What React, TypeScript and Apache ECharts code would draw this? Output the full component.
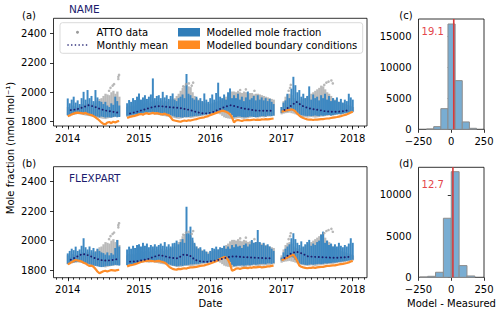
import React, { useEffect, useRef } from "react";
import * as echarts from "echarts";

// ---- time-series data: 10-day slots starting 2014-01-01 (slot i -> 2014 + i/36), null = no data ----
const blueHiA = [
  1958,1925,1950, 1970,1930,1945, 1920,1960,2003, 1950,2015,1960, 1975,1940,2015, 1965,1940,1935, 1920,1935,1910, 1900,1925,1915, 1970,1940,1910,
  null,null,null,
  1925,1947,1935, 1960,1947,1970, 1992,1950,1965, 1980,1955,1970, 1985,2094,1960, 1975,1980,1960, 2003,1965,1980, 1955,1975,1992, 1950,1940,1960,
  1970,1985,1960, 2124,1990,1980, 1960,1950,1970, 1945,1960,1940, 1992,1950,1935, 1960,1985,1950, 1995,2065,1970, 1960,1985,1950, 2000,2026,1960,
  1980,1960,1990, 1950,1970,1940, 1965,2005,1950, 1960,1975,1945, 1980,1950,1965, 1945,1960,1940, 1955,1935,1920,
  null,null,null,
  1900,1930,1945, 1990,1960,2025, 2105,2048,2000, 2015,1970,1990, 1960,1975,2040, 1950,1985,1960, 1970,1945,1980, 1960,1990,1950, 1975,1940,1960,
  1945,1965,1935, 1955,1930,1950, 1940,1990,1965, 1950,
];
const blueLoA = [
  1845,1850,1848, 1855,1852,1858, 1860,1855,1862, 1858,1850,1845, 1840,1838,1835, 1835,1830,1835, 1832,1828,1830, 1830,1828,1832, 1835,1830,1832,
  null,null,null,
  1840,1842,1845, 1848,1850,1852, 1855,1858,1860, 1862,1860,1865, 1865,1862,1866, 1862,1860,1858, 1858,1855,1852, 1850,1845,1840, 1835,1830,1832,
  1830,1828,1832, 1830,1832,1835, 1835,1838,1840, 1840,1842,1845, 1848,1850,1852, 1855,1858,1862, 1865,1870,1872, 1875,1872,1870, 1868,1860,1845,
  1830,1832,1835, 1835,1832,1830, 1830,1832,1835, 1835,1832,1830, 1832,1835,1838, 1838,1835,1840, 1840,1838,1842,
  null,null,null,
  1860,1865,1868, 1870,1875,1878, 1875,1865,1855, 1850,1845,1842, 1840,1838,1840, 1838,1840,1842, 1840,1838,1842, 1840,1842,1845, 1845,1842,1845,
  1848,1850,1852, 1850,1855,1858, 1860,1862,1868, 1870,
];
const orangeA = [
  1838,1842,1850, 1855,1860,1862, 1860,1858,1855, 1860,1852,1848, 1845,1838,1830, 1820,1808,1795, 1785,1782,1795, 1798,1790,1800, 1795,1802,1805,
  null,null,null,
  1825,1830,1835, 1838,1840,1845, 1850,1852,1848, 1855,1858,1852, 1856,1860,1855, 1858,1855,1852, 1850,1855,1848, 1845,1830,1812, 1808,1805,1802,
  1800,1805,1808, 1805,1810,1808, 1812,1815,1818, 1822,1825,1828, 1830,1835,1838, 1845,1850,1855, 1860,1865,1870, 1875,1872,1868, 1860,1850,1830,
  1795,1808,1812, 1808,1805,1810, 1810,1812,1810, 1812,1815,1812, 1814,1812,1816, 1815,1818,1816, 1818,1820,1822,
  null,null,null,
  1868,1872,1875, 1878,1880,1885, 1880,1870,1855, 1842,1832,1825, 1820,1816,1814, 1815,1812,1815, 1814,1816,1818, 1818,1820,1822, 1822,1825,1828,
  1830,1832,1835, 1838,1842,1846, 1850,1856,1862, 1868,
];
const blueHiB = [
  1913,1930,1945, 1935,1959,1930, 1940,1965,2016, 1955,1940,1960, 1935,1950,1925, 1945,1930,1920, 1915,1905,1920, 1900,1915,1905, 1950,2004,1960,
  null,null,null,
  1940,1959,1945, 1965,1950,1970, 1975,1960,1985, 1965,1980,1955, 1970,1960,1975, 1960,1970,1980, 1965,1990,1960, 1975,1960,1982, 1985,2000,1975,
  1990,2010,1985, 2230,2050,2095, 2020,1985,1960, 1945,1955,1930, 1940,1925,1910, 1930,1950,1945, 1959,1940,1955, 1950,1965,1945, 1960,1945,1970,
  1955,1975,1960, 1965,1950,1970, 1980,1960,1975, 2004,1985,1990, 2072,1990,1970, 1985,1965,1975, 1960,1945,1930,
  null,null,null,
  1885,1920,1945, 1960,1975,2016, 2050,2010,1985, 1970,1995,1960, 1975,1990,2005, 1965,1980,1970, 1990,2000,2040, 2061,1985,2000, 1970,1980,1960,
  1975,1960,1985, 1965,1955,1970, 1960,1980,2016, 1985,
];
const blueLoB = [
  1840,1845,1850, 1852,1855,1858, 1860,1855,1850, 1848,1842,1838, 1835,1830,1828, 1825,1822,1820, 1822,1825,1828, 1828,1830,1832, 1835,1832,1830,
  null,null,null,
  1835,1838,1840, 1842,1845,1848, 1850,1852,1855, 1858,1860,1862, 1862,1860,1858, 1860,1858,1855, 1852,1850,1845, 1840,1835,1830, 1828,1825,1828,
  1830,1828,1832, 1832,1835,1838, 1838,1840,1842, 1842,1845,1848, 1848,1850,1852, 1855,1858,1862, 1866,1870,1875, 1880,1882,1878, 1870,1855,1835,
  1825,1828,1830, 1830,1832,1830, 1832,1835,1832, 1835,1838,1836, 1838,1840,1842, 1842,1840,1845, 1845,1842,1848,
  null,null,null,
  1865,1870,1875, 1880,1885,1888, 1885,1870,1855, 1845,1840,1838, 1835,1834,1836, 1838,1836,1838, 1840,1842,1840, 1842,1845,1844, 1846,1848,1850,
  1850,1852,1855, 1856,1858,1860, 1862,1865,1868, 1870,
];
const orangeB = [
  1840,1845,1855, 1862,1868,1865, 1862,1858,1850, 1845,1835,1828, 1830,1822,1808, 1790,1778,1785, 1792,1795,1790, 1795,1800,1798, 1796,1800,1802,
  null,null,null,
  1825,1830,1834, 1836,1840,1845, 1850,1855,1858, 1860,1862,1865, 1862,1860,1858, 1860,1862,1858, 1855,1850,1840, 1825,1815,1808, 1805,1803,1808,
  1806,1810,1812, 1810,1815,1818, 1818,1820,1822, 1825,1828,1830, 1832,1836,1840, 1845,1850,1855, 1860,1868,1875, 1882,1888,1885, 1870,1840,1795,
  1800,1810,1812, 1808,1812,1815, 1815,1812,1818, 1815,1820,1818, 1820,1822,1818, 1820,1822,1825, 1825,1828,1830,
  null,null,null,
  1868,1872,1878, 1885,1892,1898, 1905,1885,1860, 1830,1822,1818, 1815,1812,1815, 1815,1818,1815, 1818,1820,1822, 1822,1825,1828, 1828,1830,1832,
  1832,1835,1838, 1840,1842,1845, 1848,1852,1858, 1862,
];
// ATTO observations (same in both panels)
const grayHi = [
  1900,1890,1910, 1905,1895,1900, 1910,1920,1915, 1915,1925,1910, 1920,1915,1930, 1940,1955,1960, 1975,1990,1985, 1980,2000,2010, 1990,2005,1970,
  null,null,null,
  1900,1910,1905, 1910,1905,1915, 1920,1930,1925, 1930,1940,1925, 1935,1945,1930, 1940,1935,1945, 1930,1940,1935, 1945,1950,1955, 1960,1975,1990,
  2010,2030,2045, 2050,2040,2035, 2000,1975,1960, 1950,1940,1935, 1930,1925,1920, 1920,1925,1930, 1935,1940,1945, 1950,1960,1970, 1980,1995,2005,
  2005,2000,2010, 2000,1995,2005, 2000,1990,1995, 1995,1985,1990, 1990,1985,1980, 1975,1970,1965, 1960,1955,1950,
  null,null,null,
  1900,1940,1970, 1985,1990,1980, 1960,1950,1945, 1940,1950,1955, 1960,1970,1980, 1990,2000,2010, 2020,2030,2045, 2040,2020,2000, 1990,1975,1960,
  1950,1940,1935, 1930,1925,1920, 1915,1910,1905, 1900,
];
const grayLo = [
  1840,1842,1845, 1848,1850,1852, 1850,1848,1845, 1842,1840,1838, 1835,1832,1830, 1828,1825,1822, 1820,1818,1822, 1825,1828,1830, 1832,1835,1835,
  null,null,null,
  1832,1835,1838, 1840,1842,1845, 1848,1850,1852, 1855,1852,1850, 1852,1855,1850, 1848,1845,1842, 1840,1838,1835, 1832,1830,1828, 1825,1822,1820,
  1822,1825,1828, 1830,1828,1825, 1828,1830,1832, 1835,1838,1840, 1842,1845,1848, 1850,1852,1855, 1858,1855,1850, 1840,1830,1825, 1822,1820,1818,
  1820,1822,1825, 1825,1822,1820, 1822,1825,1828, 1830,1832,1830, 1828,1830,1832, 1830,1832,1835, 1835,1838,1840,
  null,null,null,
  1850,1855,1858, 1860,1862,1858, 1855,1850,1845, 1840,1835,1832, 1830,1828,1830, 1832,1830,1828, 1830,1832,1835, 1835,1838,1840, 1842,1840,1842,
  1845,1848,1850, 1850,1852,1855, 1858,1860,1862, 1865,
];
const grayOutliers = [
  [2014.58, 2010], [2014.6, 2030], [2014.63, 2045], [2014.65, 2055], [2014.71, 2090], [2014.71, 2105], [2014.72, 2118],
  [2015.62, 2040], [2015.66, 2055], [2015.7, 2060], [2015.74, 2045], [2015.76, 2065],
  [2016.42, 2015], [2016.5, 2020], [2016.62, 2010],
  [2017.1, 2010], [2017.12, 2030], [2017.13, 2050], [2017.6, 2050], [2017.63, 2065], [2017.66, 2072], [2017.7, 2080], [2017.72, 2060],
];
// monthly means, Jan 2014 .. Dec 2017
const monthlyA = [
  1879, 1884, 1897, 1912, 1902, 1886, 1875, 1868, 1861, null, 1856, 1866,
  1878, 1890, 1902, 1906, 1902, 1897, 1895, 1888, 1880, 1868, 1858, 1856,
  1866, 1884, 1902, 1912, 1902, 1890, 1884, 1876, 1875, 1875, 1875, null,
  1880, 1905, 1935, 1908, 1892, 1884, 1878, 1870, 1868, 1868, 1872, 1880,
];
const monthlyB = [
  1870, 1890, 1910, 1900, 1882, 1868, 1864, 1868, 1875, null, 1857, 1858,
  1866, 1874, 1890, 1902, 1892, 1882, 1880, 1905, 1900, 1868, 1858, 1856,
  1862, 1870, 1882, 1892, 1892, 1888, 1886, 1884, 1882, 1880, 1880, null,
  1882, 1910, 1925, 1912, 1892, 1890, 1888, 1886, 1884, 1884, 1886, 1890,
];
// histograms: bin edges and counts
const histEdgesC = [-188.5, -134, -79.5, -25, 29.5, 84, 138.5, 193];
const histCountsC = [40, 430, 3340, 17040, 7875, 1190, 160];
const histEdgesD = [-240, -180, -120, -60, 0, 60, 120, 180];
const histCountsD = [30, 120, 610, 7170, 12830, 1420, 160];
const meanC = 19.1;
const meanD = 12.7;

const yearTicks = [2014, 2015, 2016, 2017, 2018];
const moleTicks = [1800, 2000, 2200, 2400];
const histXTicks = [-250, 0, 250];
const histYTicksC = [0, 5000, 10000, 15000];
const histYTicksD = [0, 5000, 10000];

const FONT = "DejaVu Sans";
const BLUE = "#3d88c2";
const ORANGE = "#fd8c28";
const GRAY = "#bababa";
const NAVY = "#1c1c6e";
const RED = "#d93a3a";

const slotT = (i: number) => 2014 + i / 36;

function bandData(lo: (number | null)[], hi: (number | null)[]) {
  const out: number[][] = [];
  for (let i = 0; i < hi.length; i++) {
    if (lo[i] != null && hi[i] != null) out.push([slotT(i), lo[i] as number, hi[i] as number]);
  }
  return out;
}
function lineData(v: (number | null)[]) {
  return v.map((y, i) => [slotT(i), y == null ? "-" : y]);
}
function monthData(v: (number | null)[]) {
  return v.map((y, m) => [2014 + (m + 0.5) / 12, y == null ? "-" : y]);
}
function histData(edges: number[], counts: number[]) {
  return counts.map((c, i) => [edges[i], edges[i + 1], c]);
}

const bandRender = (color: string, extra: number) => (params: any, api: any) => {
  const t = api.value(0);
  const lo = api.value(1);
  const hi = api.value(2);
  const a = api.coord([t - 1 / 72, hi]);
  const b = api.coord([t + 1 / 72, lo]);
  return {
    type: "rect",
    shape: { x: a[0], y: a[1], width: b[0] - a[0] + extra, height: Math.max(b[1] - a[1], 0.8) },
    style: { fill: color },
  };
};
const histRender = (params: any, api: any) => {
  const a = api.coord([api.value(0), api.value(2)]);
  const b = api.coord([api.value(1), 0]);
  return {
    type: "rect",
    shape: { x: a[0], y: a[1], width: b[0] - a[0], height: b[1] - a[1] },
    style: { fill: "#79add2", stroke: "#8c8c8c", lineWidth: 1 },
  };
};

const minorMonths: number[] = [];
for (let k = -2; k <= 50; k++) {
  const v = 2014 + k / 12;
  if (v >= 2013.8 && v <= 2018.2) minorMonths.push(v);
}

const labelStyle = { fontFamily: FONT, fontSize: 10, color: "#000" };
const tickLine = { color: "#000", width: 0.8 };

function timeXAxes(gridIndex: number) {
  return [
    {
      type: "value", gridIndex, min: 2013.8, max: 2018.2, position: "bottom",
      axisLine: { show: false }, splitLine: { show: false },
      axisTick: { show: true, customValues: yearTicks, length: 3.5, lineStyle: tickLine },
      axisLabel: { ...labelStyle, margin: 7, customValues: yearTicks, formatter: (v: number) => String(Math.round(v)) },
    },
    {
      type: "value", gridIndex, min: 2013.8, max: 2018.2, position: "bottom",
      axisLine: { show: false }, splitLine: { show: false },
      axisTick: { show: true, customValues: minorMonths, length: 2, lineStyle: tickLine },
      axisLabel: { show: false },
    },
  ];
}
function histXAxis(gridIndex: number) {
  return {
    type: "value", gridIndex, min: -250, max: 250,
    axisLine: { show: false }, splitLine: { show: false },
    axisTick: { show: true, customValues: histXTicks, length: 3.5, lineStyle: tickLine },
    axisLabel: {
      ...labelStyle, margin: 7, customValues: histXTicks,
      formatter: (v: number) => (v < 0 ? "\u2212" + Math.abs(v) : String(v)),
    },
  };
}
function yAxis(gridIndex: number, min: number, max: number, ticks: number[]) {
  return {
    type: "value", gridIndex, min, max,
    axisLine: { show: false }, splitLine: { show: false },
    axisTick: { show: true, customValues: ticks, length: 3.5, lineStyle: tickLine },
    axisLabel: { ...labelStyle, margin: 7, customValues: ticks, formatter: (v: number) => String(v) },
  };
}

function panelSeries(xi: number, yi: number, bHi: any[], bLo: any[], orange: any[], monthly: any[]) {
  return [
    {
      type: "custom", xAxisIndex: xi, yAxisIndex: yi, renderItem: bandRender(GRAY, 0.3),
      data: bandData(grayLo, grayHi), encode: { x: 0, y: [1, 2] }, silent: true,
    },
    {
      type: "scatter", xAxisIndex: xi, yAxisIndex: yi, symbol: "circle", symbolSize: 2.6,
      itemStyle: { color: "#a8a8a8" }, data: grayOutliers, silent: true,
    },
    {
      type: "custom", xAxisIndex: xi, yAxisIndex: yi, renderItem: bandRender(BLUE, 0),
      data: bandData(bLo, bHi), encode: { x: 0, y: [1, 2] }, silent: true,
    },
    {
      type: "line", xAxisIndex: xi, yAxisIndex: yi, data: lineData(orange), showSymbol: false,
      symbol: "none", connectNulls: false, lineStyle: { color: ORANGE, width: 2.2 }, silent: true,
    },
    {
      type: "line", xAxisIndex: xi, yAxisIndex: yi, data: monthData(monthly), showSymbol: false,
      symbol: "none", connectNulls: false,
      lineStyle: { color: NAVY, width: 1.9, type: [0.1, 3.6], cap: "round" }, silent: true,
    },
  ];
}

function histSeries(xi: number, yi: number, edges: number[], counts: number[], mean: number, ymax: number) {
  return [
    {
      type: "custom", xAxisIndex: xi, yAxisIndex: yi, renderItem: histRender,
      data: histData(edges, counts), encode: { x: [0, 1], y: 2 }, silent: true,
    },
    {
      type: "line", xAxisIndex: xi, yAxisIndex: yi, data: [[mean, 0], [mean, ymax]], symbol: "none",
      lineStyle: { color: RED, width: 1.6 }, silent: true,
    },
  ];
}

const txt = (x: number, y: number, text: string, extra: any = {}) => ({
  type: "text", x, y,
  style: { text, fontFamily: FONT, fontSize: 10, fill: "#000", align: "left", verticalAlign: "middle", ...extra },
  silent: true,
});

export default function App() {
  const ref = useRef<HTMLDivElement>(null);
  useEffect(() => {
    if (!ref.current) return;
    const chart = echarts.init(ref.current, null, { renderer: "svg" });
    const gridBase = { show: true, borderColor: "#000", borderWidth: 0.8, containLabel: false };
    const option: any = {
      animation: false,
      backgroundColor: "#fff",
      textStyle: { fontFamily: FONT },
      grid: [
        { ...gridBase, left: 53.5, top: 18.3, width: 313.5, height: 107.7 },
        { ...gridBase, left: 53.5, top: 166.7, width: 313.5, height: 111 },
        { ...gridBase, left: 418.5, top: 19, width: 65.5, height: 110.3 },
        { ...gridBase, left: 418.5, top: 167.3, width: 65.5, height: 110 },
      ],
      xAxis: [...timeXAxes(0), ...timeXAxes(1), histXAxis(2), histXAxis(3)],
      yAxis: [
        yAxis(0, 1771, 2502, moleTicks),
        yAxis(1, 1748, 2502, moleTicks),
        yAxis(2, 0, 17850, histYTicksC),
        yAxis(3, 0, 13360, histYTicksD),
      ],
      series: [
        ...panelSeries(0, 0, blueHiA, blueLoA, orangeA, monthlyA),
        ...panelSeries(2, 1, blueHiB, blueLoB, orangeB, monthlyB),
        ...histSeries(4, 2, histEdgesC, histCountsC, meanC, 17850),
        ...histSeries(5, 3, histEdgesD, histCountsD, meanD, 13360),
      ],
      graphic: [
        // legend
        {
          type: "rect", shape: { x: 60, y: 22.7, width: 302.7, height: 30.6, r: 2.5 },
          style: { fill: "rgba(255,255,255,0.8)", stroke: "#d0d0d0", lineWidth: 0.8 }, silent: true, z: 100,
        },
        { type: "circle", shape: { cx: 77.5, cy: 32.3, r: 1.5 }, style: { fill: "#9a9a9a" }, z: 101, silent: true },
        {
          type: "line", shape: { x1: 68, y1: 45, x2: 87, y2: 45 },
          style: { stroke: NAVY, lineWidth: 1.6, lineDash: [0.1, 3.6], lineCap: "round" }, z: 101, silent: true,
        },
        { type: "rect", shape: { x: 178, y: 28, width: 22, height: 8.5 }, style: { fill: "#2f7db9" }, z: 101, silent: true },
        { type: "rect", shape: { x: 178, y: 40.5, width: 22, height: 8.5 }, style: { fill: "#ff8a20" }, z: 101, silent: true },
        { ...txt(96.5, 32.3, "ATTO data"), z: 101 },
        { ...txt(96.5, 45, "Monthly mean"), z: 101 },
        { ...txt(206.5, 32.3, "Modelled mole fraction"), z: 101 },
        { ...txt(206.5, 45, "Modelled boundary conditions"), z: 101 },
        // titles & panel labels
        txt(69, 8.5, "NAME", { fill: NAVY, fontSize: 10.5 }),
        txt(69, 178.3, "FLEXPART", { fill: NAVY, fontSize: 10.5 }),
        txt(29, 15, "(a)", { align: "center" }),
        txt(29, 163.3, "(b)", { align: "center" }),
        txt(406, 15.5, "(c)", { align: "center" }),
        txt(406, 163.3, "(d)", { align: "center" }),
        txt(432.7, 31, "19.1", { align: "center", fill: "#e4454b" }),
        txt(432.7, 184.3, "12.7", { align: "center", fill: "#e4454b" }),
        // axis titles
        txt(210.5, 303, "Date", { align: "center" }),
        txt(451.5, 303, "Model - Measured", { align: "center" }),
        {
          type: "text", x: 10, y: 148, rotation: Math.PI / 2,
          style: {
            text: "Mole fraction (nmol mol\u207B\u00B9)", fontFamily: FONT, fontSize: 10, fill: "#000",
            align: "center", verticalAlign: "middle",
          },
          silent: true,
        },
      ],
    };
    chart.setOption(option);
    return () => chart.dispose();
  }, []);
  return <div ref={ref} style={{ position: "fixed", left: 0, top: 0, width: 500, height: 311 }} />;
}
